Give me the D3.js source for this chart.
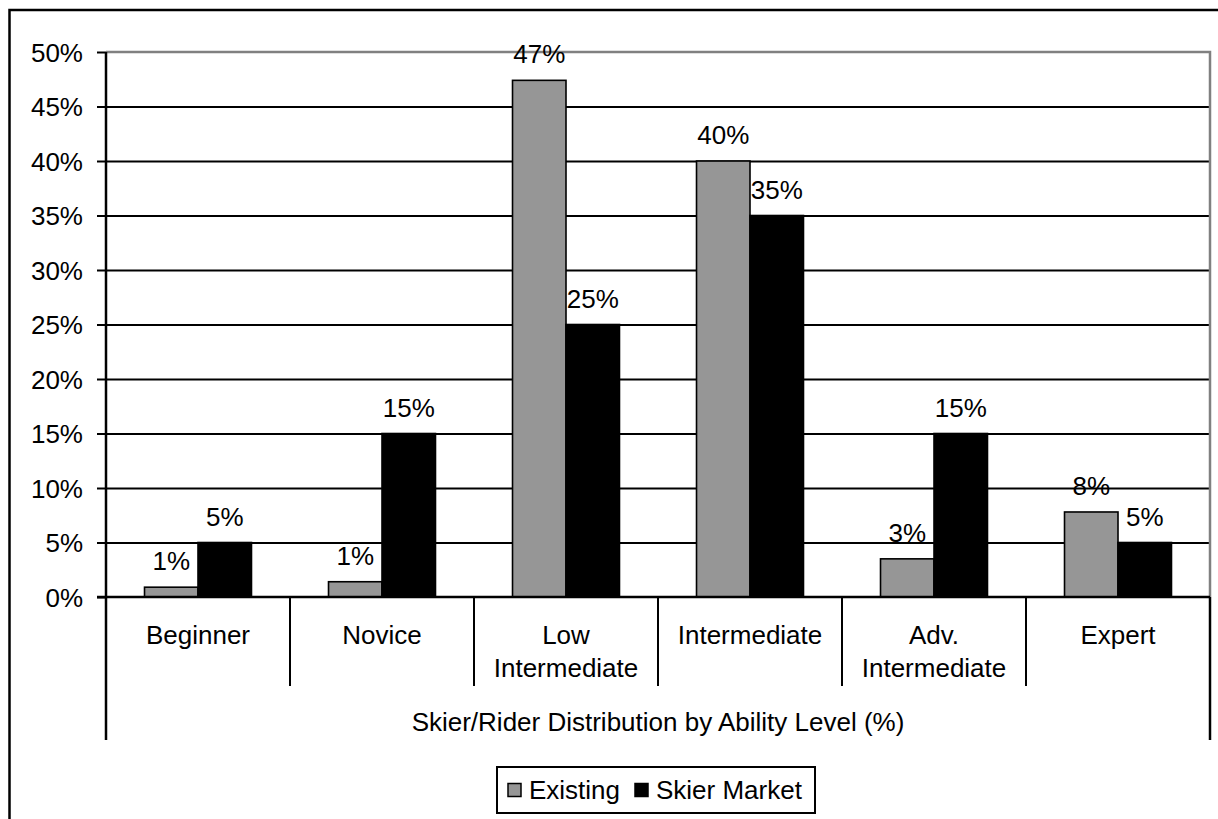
<!DOCTYPE html>
<html>
<head>
<meta charset="utf-8">
<script src="https://cdn.jsdelivr.net/npm/d3@7"></script>
<style>
  html, body { margin: 0; padding: 0; background: #fff; }
  svg { display: block; }
  text { font-family: "Liberation Sans", Arial, sans-serif; fill: #000; }
</style>
</head>
<body>
<svg id="chart" width="1218" height="819"></svg>
<script>
// ---- data ----
const categories = [["Beginner"], ["Novice"], ["Low", "Intermediate"], ["Intermediate"], ["Adv.", "Intermediate"], ["Expert"]];
const seriesNames = ["Existing", "Skier Market"];
const existing = [0.9, 1.4, 47.4, 40.0, 3.5, 7.8];
const skierMarket = [5, 15, 25, 35, 15, 5];
const existingLabels = ["1%", "1%", "47%", "40%", "3%", "8%"];
const skierLabels = ["5%", "15%", "25%", "35%", "15%", "5%"];
const yTicks = [0, 5, 10, 15, 20, 25, 30, 35, 40, 45, 50];
const axisTitle = "Skier/Rider Distribution by Ability Level (%)";

// ---- layout ----
const svg = d3.select("#chart");
const FS = 26;
const pL = 106, pR = 1210, pT = 52, pB = 597;
const colors = ["#969696", "#000000"];

// outer frame
svg.append("rect").attr("x", 9.5).attr("y", 10).attr("width", 1240).attr("height", 850)
  .attr("fill", "none").attr("stroke", "#000").attr("stroke-width", 2.5);

const y = d3.scaleLinear().domain([0, 50]).range([pB, pT]);
const catKeys = categories.map((c, i) => i);
const x = d3.scaleBand().domain(catKeys).range([pL, pR]).paddingInner(0).paddingOuter(0);
const xs = d3.scaleBand().domain([0, 1]).range([0, x.bandwidth()]).paddingInner(0).paddingOuter(0.72);

// gridlines
const grid = svg.append("g").attr("transform", `translate(${pL},0)`)
  .call(d3.axisLeft(y).tickValues(yTicks.filter(t => t > 0 && t < 50)).tickSize(-(pR - pL)).tickFormat(""));
grid.select(".domain").remove();
grid.selectAll(".tick line").attr("stroke", "#000").attr("stroke-width", 2);

// plot area top/right border (gray)
svg.append("path").attr("d", `M${pL},${pT}H${pR}V${pB}`)
  .attr("fill", "none").attr("stroke", "#808080").attr("stroke-width", 2.5);

// bars
const data = [existing, skierMarket];
const labels = [existingLabels, skierLabels];
data.forEach((vals, s) => {
  svg.append("g").selectAll("rect").data(vals).join("rect")
    .attr("x", (d, i) => x(i) + xs(s))
    .attr("y", d => y(d))
    .attr("width", xs.bandwidth())
    .attr("height", d => y(0) - y(d))
    .attr("fill", colors[s])
    .attr("stroke", "#000").attr("stroke-width", 1.6);
});
// data labels
data.forEach((vals, s) => {
  svg.append("g").selectAll("text").data(vals).join("text")
    .attr("x", (d, i) => x(i) + xs(s) + xs.bandwidth() / 2)
    .attr("y", d => y(d) - 17)
    .attr("text-anchor", "middle")
    .attr("font-size", FS)
    .text((d, i) => labels[s][i]);
});

// y axis
const yAxis = svg.append("g").attr("transform", `translate(${pL},0)`)
  .call(d3.axisLeft(y).tickValues(yTicks).tickSize(9).tickPadding(14).tickFormat(d => d + "%"));
yAxis.select(".domain").remove();
yAxis.selectAll(".tick line").attr("stroke", "#000").attr("stroke-width", 2);
yAxis.selectAll(".tick text").attr("font-size", FS).attr("font-family", "Liberation Sans, Arial, sans-serif").attr("dy", "0.36em");

// y axis line extending into group axis
svg.append("line").attr("x1", pL).attr("x2", pL).attr("y1", pT).attr("y2", 740)
  .attr("stroke", "#000").attr("stroke-width", 2.5);
svg.append("line").attr("x1", pR).attr("x2", pR).attr("y1", pB).attr("y2", 740)
  .attr("stroke", "#000").attr("stroke-width", 2.5);
// x axis line
svg.append("line").attr("x1", pL - 9).attr("x2", pR).attr("y1", pB).attr("y2", pB)
  .attr("stroke", "#000").attr("stroke-width", 2.5);
// category dividers
svg.append("g").selectAll("line").data(catKeys.slice(1)).join("line")
  .attr("x1", d => x(d)).attr("x2", d => x(d)).attr("y1", pB).attr("y2", 686)
  .attr("stroke", "#000").attr("stroke-width", 2);
// category labels
const cl = svg.append("g").selectAll("text").data(categories).join("text")
  .attr("text-anchor", "middle").attr("font-size", FS)
  .attr("x", (d, i) => x(i) + x.bandwidth() / 2)
  .attr("y", 644);
cl.selectAll("tspan").data(d => d).join("tspan")
  .attr("x", function () { return this.parentNode.getAttribute("x"); })
  .attr("dy", (d, j) => j === 0 ? 0 : 33)
  .text(d => d);

// group axis title
svg.append("text").attr("x", (pL + pR) / 2).attr("y", 731)
  .attr("text-anchor", "middle").attr("font-size", FS).text(axisTitle);

// legend
const lg = svg.append("g");
lg.append("rect").attr("x", 497).attr("y", 767).attr("width", 318).attr("height", 46)
  .attr("fill", "#fff").attr("stroke", "#000").attr("stroke-width", 2);
const legX = [508, 635];
seriesNames.forEach((n, s) => {
  lg.append("rect").attr("x", legX[s]).attr("y", 783.5).attr("width", 13).attr("height", 13)
    .attr("fill", colors[s]).attr("stroke", "#000").attr("stroke-width", 1.5);
  lg.append("text").attr("x", legX[s] + 21).attr("y", 799).attr("font-size", FS).text(n);
});
</script>
</body>
</html>
